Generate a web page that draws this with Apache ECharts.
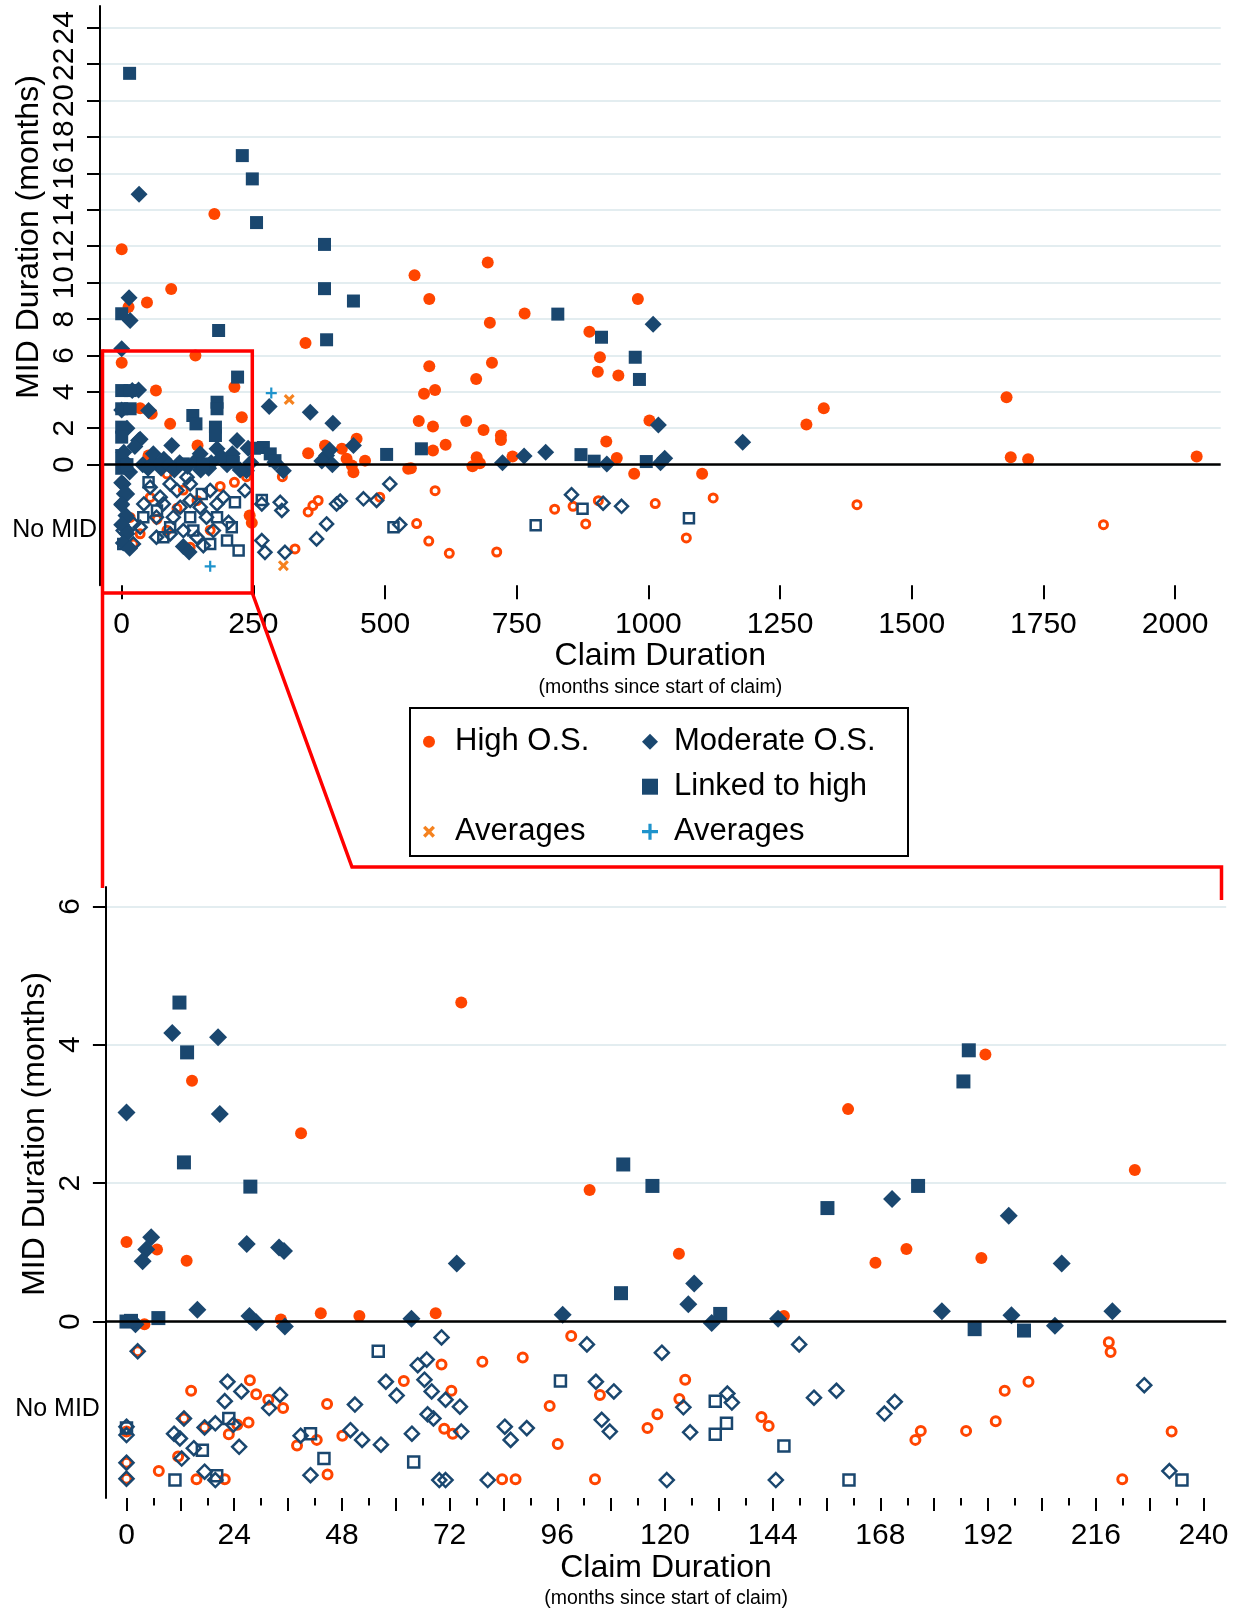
<!DOCTYPE html>
<html lang="en">
<head>
<meta charset="UTF-8">
<title>MID Duration vs Claim Duration</title>
<script src="https://cdn.jsdelivr.net/npm/echarts@6/dist/echarts.min.js"></script>
<style>html,body{margin:0;padding:0;background:#fff;}</style>
</head>
<body>
<div id="main" style="width:1243px;height:1614px;"></div>
<script>
// ---- tick values ----
var topYTicks = [0, 2, 4, 6, 8, 10, 12, 14, 16, 18, 20, 22, 24];
var topXTicks = [0, 250, 500, 750, 1000, 1250, 1500, 1750, 2000];
var botYTicks = [0, 2, 4, 6];
var botXMajor = [0, 12, 24, 36, 48, 60, 72, 84, 96, 108, 120, 132, 144, 156, 168, 180, 192, 204, 216, 228, 240];
var botXMinor = [6, 18, 30, 42, 54, 66, 78, 90, 102, 114, 126, 138, 150, 162, 174, 186, 198, 210, 222, 234];
var botXLabels = [0, 24, 48, 72, 96, 120, 144, 168, 192, 216, 240];
var noMidTop = -3.58;
var noMidBot = -1.27;

// ---- full range chart: [claim duration, MID duration] ----
var highTop = [[0, 11.83], [176, 13.77], [94, 9.65], [48, 8.91], [13, 8.66], [140, 6.0], [0, 5.6], [65, 4.07],
  [214, 4.26], [228, 2.61], [92, 2.24], [57, 2.79], [144, 1.05], [54, 0.45], [35, 3.1], [51, 0.5], [349, 6.68],
  [354, 0.63], [386, 1.05], [418, 0.87], [446, 1.42], [462, 0.22], [437, -0.05], [440, -0.42], [427, 0.32],
  [544, -0.23], [243, -2.8], [247, -3.2], [556, 10.4], [584, 9.1], [695, 11.1], [699, 7.8], [765, 8.3], [703, 5.6],
  [584, 5.4], [574, 3.9], [595, 4.1], [673, 4.7], [888, 7.3], [908, 5.9], [904, 5.1], [943, 4.9], [980, 9.1],
  [1002, 2.42], [920, 1.27], [564, 2.4], [591, 2.1], [654, 2.4], [687, 1.9], [720, 1.6], [720, 1.35], [615, 1.09],
  [591, 0.78], [674, 0.41], [666, -0.09], [680, 0.08], [549, -0.2], [742, 0.45], [940, 0.37], [973, -0.5],
  [1102, -0.5], [1680, 3.7], [1300, 2.2], [1333, 3.1], [1688, 0.4], [1721, 0.3], [2041, 0.45]];
var modTop = [[33, 14.86], [14, 9.17], [16, 7.92], [0, 6.37], [51, 2.97], [32, 4.1], [35, 1.4], [280, 3.2],
  [358, 2.88], [401, 2.28], [440, 1.05], [389, 0.5], [380, 0.2], [395, 0.8], [400, 0.0], [219, 1.32], [95, 1.05],
  [32, 1.32], [4, 0.68], [149, 0.6], [181, 0.87], [291, 0.13], [307, -0.33], [237, -0.33], [1009, 7.72],
  [1019, 2.18], [1179, 1.23], [723, 0.11], [764, 0.48], [805, 0.68], [921, 0.04], [1023, 0.1], [1031, 0.35],
  [20, 4.07], [0, 3.0], [10, 2.0], [25, 1.0], [5, 0.2], [40, 0.0], [60, 0.1], [75, -0.2], [110, 0.1],
  [125, -0.1], [165, -0.2], [200, 0.0], [225, -0.3], [15, -0.4], [0, -1.0], [5, -1.6], [0, -2.2], [8, -2.8],
  [0, -3.3], [10, -3.8], [3, -4.3], [15, -4.6], [117, -4.5], [128, -4.8],
  [60, 0.6], [80, 0.3], [90, 0.0], [140, 0.2], [170, 0.1], [190, 0.4], [210, 0.6], [240, 0.9], [245, 0.1],
  [100, -0.3], [150, -0.3], [50, -0.2]];
var linkTop = [[15, 21.5], [229, 16.98], [248, 15.7], [256, 13.3], [385, 12.1], [385, 9.67], [440, 8.99],
  [184, 7.37], [389, 6.86], [0, 8.29], [220, 4.81], [0, 4.07], [16, 4.07], [0, 3.07], [16, 3.07], [181, 3.43],
  [181, 3.07], [135, 2.7], [141, 2.24], [178, 2.06], [178, 1.6], [0, 2.06], [0, 1.51], [252, 0.9], [269, 0.94],
  [282, 0.59], [291, 0.22], [503, 0.56], [155, 0.04], [117, 0.04], [212, 0.13], [828, 8.27], [911, 7.0],
  [975, 5.9], [983, 4.68], [569, 0.87], [872, 0.55], [897, 0.19], [996, 0.17], [0, 0.5], [0, -0.2], [10, 0.0]];
var highTopNo = [[595, -1.43], [560, -3.24], [583, -4.2], [622, -4.87], [712, -4.8], [822, -2.45], [857, -2.29],
  [881, -3.26], [905, -1.98], [1013, -2.14], [1123, -1.83], [1072, -4.03], [1396, -2.2], [1864, -3.3], [86, -0.51],
  [214, -0.97], [237, -0.66], [305, -0.66], [0, -0.97], [354, -2.6], [373, -1.97], [363, -2.25], [329, -4.63],
  [490, -1.79], [130, -4.54], [35, -3.8], [22, -4.36], [67, -3.0], [105, -2.4], [143, -1.97], [54, -1.8],
  [16, -2.9], [117, -1.4], [168, -3.6], [86, -3.6], [187, -1.2]];
var modTopNo = [[854, -1.65], [914, -2.12], [949, -2.29], [528, -3.29], [3, -1.06], [10, -1.61], [0, -2.16],
  [42, -2.16], [92, -1.06], [124, -0.69], [105, -1.42], [130, -1.97], [234, -1.42], [266, -2.16], [301, -2.07],
  [304, -2.52], [266, -4.17], [272, -4.82], [310, -4.82], [370, -4.08], [389, -3.26], [408, -2.16], [415, -2.0],
  [459, -1.88], [484, -1.97], [509, -1.06], [203, -3.17], [155, -4.45], [54, -1.24], [73, -1.79], [149, -2.34],
  [79, -2.16], [98, -2.89], [117, -3.62], [161, -2.89], [181, -2.16], [193, -1.79], [168, -1.42], [130, -1.06],
  [22, -3.26], [3, -3.62], [35, -3.44], [66, -2.89], [111, -2.34], [174, -3.62], [143, -3.99], [92, -3.81],
  [66, -3.99], [22, -4.36]];
var linkTopNo = [[875, -2.43], [786, -3.33], [1077, -2.94], [51, -0.97], [152, -1.61], [215, -2.07], [209, -3.44],
  [200, -4.17], [222, -4.72], [168, -4.36], [92, -3.44], [67, -2.52], [130, -2.89], [41, -2.89], [3, -4.36],
  [79, -3.99], [181, -2.89], [136, -3.62], [266, -1.94], [516, -3.44]];
var avgHighTop = [[318, 3.58], [307, -5.55]];
var avgModTop = [[284, 3.93], [168, -5.59]];

// ---- zoomed chart (first 240 months, MID up to 6) ----
var highBot = [[74.6, 4.61], [14.6, 3.48], [38.9, 2.72], [0, 1.15], [6.8, 1.04], [13.4, 0.88], [103.2, 1.9],
  [4.0, -0.04], [34.4, 0.03], [43.3, 0.12], [51.9, 0.08], [68.9, 0.12], [160.8, 3.07], [191.4, 3.86],
  [224.7, 2.19], [123.1, 0.98], [166.9, 0.85], [173.8, 1.05], [190.5, 0.92], [146.5, 0.08]];
var modBot = [[10.2, 4.17], [20.4, 4.11], [0, 3.02], [20.8, 3.0], [5.5, 1.22], [4.4, 1.04], [3.6, 0.87],
  [26.8, 1.12], [34.0, 1.07], [35.1, 1.02], [73.6, 0.84], [15.8, 0.17], [27.4, 0.08], [28.9, -0.01],
  [35.3, -0.07], [2.0, -0.04], [63.5, 0.04], [97.2, 0.1], [170.6, 1.77], [196.6, 1.53], [208.4, 0.84],
  [126.5, 0.55], [125.2, 0.25], [130.4, -0.02], [145.2, 0.04], [181.7, 0.15], [197.2, 0.09], [206.9, -0.06],
  [219.7, 0.15]];
var linkBot = [[11.8, 4.61], [13.5, 3.89], [12.8, 2.3], [27.6, 1.95], [7.1, 0.05], [0, 0.0], [1, 0.01],
  [110.7, 2.27], [117.2, 1.96], [110.2, 0.41], [156.2, 1.64], [176.4, 1.96], [187.7, 3.92], [186.5, 3.47],
  [132.3, 0.11], [189.0, -0.11], [200.0, -0.13]];
var highBotNo = [[0, -1.59], [0, -2.04], [0, -2.27], [2.5, -0.43], [7.2, -2.16], [11.5, -1.95], [12.8, -1.4],
  [14.4, -1.0], [15.6, -2.28], [17.4, -1.53], [21.9, -2.28], [22.8, -1.63], [24.7, -1.49], [27.2, -1.46],
  [27.5, -0.85], [28.9, -1.05], [31.6, -1.13], [34.9, -1.25], [38.0, -1.79], [42.4, -1.71], [44.7, -1.19],
  [44.8, -2.21], [48.1, -1.65], [61.8, -0.86], [70.2, -0.62], [70.8, -1.55], [72.4, -1.0], [72.7, -1.62],
  [79.3, -0.58], [83.7, -2.28], [86.7, -2.28], [88.3, -0.52], [94.3, -1.22], [96.1, -1.77], [99.1, -0.21],
  [104.4, -2.28], [105.5, -1.06], [116.1, -1.54], [118.3, -1.34], [123.2, -1.12], [124.5, -0.84],
  [141.5, -1.38], [143.1, -1.51], [175.8, -1.71], [177.0, -1.58], [187.1, -1.58], [193.7, -1.44],
  [195.7, -1.0], [201.0, -0.87], [218.9, -0.3], [219.3, -0.44], [221.9, -2.28], [232.9, -1.59]];
var modBotNo = [[2.5, -0.43], [0, -1.52], [0, -1.64], [0, -2.04], [0, -2.27], [10.6, -1.62], [11.9, -1.69],
  [12.8, -1.4], [12.3, -1.98], [15.0, -1.83], [17.4, -1.53], [17.4, -2.17], [19.8, -1.47], [19.8, -2.29],
  [21.9, -1.15], [22.5, -0.87], [23.8, -1.49], [25.1, -1.81], [25.6, -1.01], [31.8, -1.25], [34.2, -1.06],
  [38.8, -1.65], [41.0, -2.22], [49.9, -1.57], [50.9, -1.2], [52.5, -1.71], [56.7, -1.78], [57.8, -0.87],
  [60.2, -1.07], [63.6, -1.62], [64.9, -0.63], [66.4, -0.84], [66.9, -0.55], [68.0, -1.01], [67.1, -1.34],
  [68.4, -1.4], [70.2, -0.23], [71.1, -1.13], [69.7, -2.29], [71.1, -2.29], [74.3, -1.23], [74.6, -1.59],
  [80.5, -2.29], [84.3, -1.52], [85.6, -1.71], [89.2, -1.54], [102.6, -0.33], [104.6, -0.87], [105.9, -1.42],
  [107.7, -1.59], [108.6, -1.01], [119.3, -0.45], [120.4, -2.29], [124.1, -1.24], [125.6, -1.6],
  [133.9, -1.04], [134.9, -1.17], [144.7, -2.29], [149.9, -0.33], [153.2, -1.1], [158.2, -1.0],
  [168.9, -1.33], [171.2, -1.16], [226.8, -0.92], [232.4, -2.16]];
var linkBotNo = [[0, -1.54], [10.8, -2.29], [16.9, -1.86], [20.1, -2.23], [22.8, -1.4], [41.0, -1.62],
  [44.0, -1.98], [56.1, -0.43], [64.0, -2.03], [96.7, -0.86], [131.2, -1.15], [131.2, -1.63], [133.7, -1.47],
  [146.5, -1.8], [161.0, -2.29], [235.2, -2.29]];

var FONT = 'Liberation Sans, Arial, sans-serif';
var ORANGE = '#ff4500';
var NAVY = '#1a476f';
var AVG_ORANGE = '#f5821f';
var AVG_BLUE = '#1e93cc';
var GRIDLINE = '#e3edf0';
var CROSS = 'path://M2,0L5,3L8,0L10,2L7,5L10,8L8,10L5,7L2,10L0,8L3,5L0,2Z';
var PLUS = 'path://M4,0H6V4H10V6H6V10H4V6H0V4H4Z';

function scatter(name, data, grid, symbol, size, color, hollow, bw) {
  return {
    type: 'scatter',
    name: name,
    data: data,
    xAxisIndex: grid === 0 ? 0 : 1,
    yAxisIndex: grid === 0 ? 0 : 2,
    symbol: symbol,
    symbolSize: size,
    symbolKeepAspect: true,
    itemStyle: hollow
      ? { color: 'rgba(0,0,0,0)', borderColor: color, borderWidth: bw, opacity: 1 }
      : { color: color, opacity: 1 },
    emphasis: { disabled: true },
    z: hollow ? 3 : 4
  };
}

function zeroLine(grid) {
  return {
    type: 'scatter', name: 'zero' + grid, data: [],
    xAxisIndex: grid === 0 ? 0 : 1, yAxisIndex: grid === 0 ? 0 : 2, z: 2,
    markLine: {
      silent: true, symbol: ['none', 'none'], label: { show: false },
      lineStyle: { color: '#000', width: 2.5, type: 'solid' },
      data: [{ yAxis: 0 }]
    }
  };
}

function plain(v) { return String(v); }

function yMain(grid, min, max, ticks) {
  return {
    type: 'value', gridIndex: grid, min: min, max: max, position: 'left',
    axisLine: { show: true, onZero: false, lineStyle: { color: '#000', width: 2 } },
    axisTick: { show: true, customValues: ticks, length: 13, lineStyle: { color: '#000', width: 2 } },
    axisLabel: { customValues: ticks, formatter: plain, rotate: 90, margin: 20, fontSize: 30, color: '#000', fontFamily: FONT },
    splitLine: { show: true, lineStyle: { color: GRIDLINE, width: 2 } }
  };
}

function yNoMid(grid, min, max, v, margin) {
  return {
    type: 'value', gridIndex: grid, min: min, max: max, position: 'left', offset: 0,
    axisLine: { show: false, onZero: false }, axisTick: { show: false }, splitLine: { show: false },
    axisLabel: { customValues: [v], formatter: function () { return 'No MID'; }, margin: margin,
      fontSize: 25, color: '#000', fontFamily: FONT }
  };
}

var nameRich = {
  a: { fontSize: 32, lineHeight: 34, color: '#000', fontFamily: FONT },
  b: { fontSize: 19.5, lineHeight: 28, color: '#000', fontFamily: FONT }
};
var xName = '{a|Claim Duration}\n{b|(months since start of claim)}';
var legendText = { fontSize: 31, lineHeight: 36, color: '#000', fontFamily: FONT };

var option = {
  animation: false,
  backgroundColor: '#fff',
  grid: [
    { left: 100, top: 6, width: 1120.7, height: 579.3, outerBoundsMode: 'none', containLabel: false },
    { left: 105.9, top: 887, width: 1120.3, height: 611, outerBoundsMode: 'none', containLabel: false }
  ],
  xAxis: [
    {
      type: 'value', gridIndex: 0, min: -41.2, max: 2086.6, position: 'bottom',
      axisLine: { show: false, onZero: false },
      axisTick: { show: true, customValues: topXTicks, length: 14, lineStyle: { color: '#000', width: 2 } },
      axisLabel: { customValues: topXTicks, formatter: plain, margin: 24, fontSize: 30, color: '#000', fontFamily: FONT },
      splitLine: { show: false },
      name: xName, nameLocation: 'middle', nameGap: 51, nameTextStyle: { rich: nameRich }
    },
    {
      type: 'value', gridIndex: 1, min: -4.59, max: 245.06, position: 'bottom',
      axisLine: { show: false, onZero: false },
      axisTick: { show: true, customValues: botXMajor, length: 13, lineStyle: { color: '#000', width: 2 } },
      axisLabel: { customValues: botXLabels, formatter: plain, margin: 23, fontSize: 30, color: '#000', fontFamily: FONT },
      splitLine: { show: false },
      name: xName, nameLocation: 'middle', nameGap: 52, nameTextStyle: { rich: nameRich }
    },
    {
      type: 'value', gridIndex: 1, min: -4.59, max: 245.06, position: 'bottom', offset: 0,
      axisLine: { show: false, onZero: false },
      axisTick: { show: true, customValues: botXMinor, length: 7.5, lineStyle: { color: '#000', width: 2 } },
      axisLabel: { show: false }, splitLine: { show: false }
    }
  ],
  yAxis: [
    yMain(0, -6.63, 25.2, topYTicks),
    yNoMid(0, -6.63, 25.2, noMidTop, 3),
    yMain(1, -2.55, 6.28, botYTicks),
    yNoMid(1, -2.55, 6.28, noMidBot, 6)
  ],
  legend: [
    {
      orient: 'vertical', left: 423, top: 723.7, padding: 0, itemWidth: 12, itemHeight: 12, itemGap: 54,
      selectedMode: false, data: ['High O.S.', 'Averages'],
      textStyle: Object.assign({ padding: [0, 0, 0, 15] }, legendText)
    },
    {
      orient: 'vertical', left: 642, top: 723.7, padding: 0, itemWidth: 16, itemHeight: 16, itemGap: 9,
      selectedMode: false, data: ['Moderate O.S.', 'Linked to high', 'Averages '],
      textStyle: Object.assign({ padding: [0, 0, 0, 11] }, legendText)
    }
  ],
  graphic: [
    { type: 'text', x: 29, y: 237, rotation: Math.PI / 2,
      style: { text: 'MID Duration (months)', fontSize: 32, fontFamily: FONT, fill: '#000', align: 'center', verticalAlign: 'middle' } },
    { type: 'text', x: 35, y: 1134, rotation: Math.PI / 2,
      style: { text: 'MID Duration (months)', fontSize: 32, fontFamily: FONT, fill: '#000', align: 'center', verticalAlign: 'middle' } },
    { type: 'rect', z: 50, shape: { x: 410, y: 708, width: 498, height: 148 },
      style: { fill: 'none', stroke: '#000', lineWidth: 2 } },
    { type: 'polyline', z: 60, shape: { points: [[102.5, 351], [252.3, 351], [252.3, 593], [102.5, 593]] },
      style: { fill: 'none', stroke: '#ff0000', lineWidth: 3.5 } },
    { type: 'polyline', z: 60, shape: { points: [[102.5, 349.3], [102.5, 888]] },
      style: { fill: 'none', stroke: '#ff0000', lineWidth: 3.5 } },
    { type: 'polyline', z: 60, shape: { points: [[252.3, 593], [352, 867], [1221.5, 867], [1221.5, 900]] },
      style: { fill: 'none', stroke: '#ff0000', lineWidth: 3.5 } }
  ],
  series: [
    zeroLine(0),
    zeroLine(1),
    scatter('High O.S. no MID', highTopNo, 0, 'circle', 8, ORANGE, true, 3),
    scatter('Moderate O.S. no MID', modTopNo, 0, 'diamond', 13, NAVY, true, 2.5),
    scatter('Linked to high no MID', linkTopNo, 0, 'rect', 10, NAVY, true, 2.5),
    scatter('High O.S.', highTop, 0, 'circle', 12, ORANGE, false),
    scatter('Moderate O.S.', modTop, 0, 'diamond', 17, NAVY, false),
    scatter('Linked to high', linkTop, 0, 'rect', 13, NAVY, false),
    scatter('Averages', avgHighTop, 0, CROSS, 11, AVG_ORANGE, false),
    scatter('Averages ', avgModTop, 0, PLUS, 11, AVG_BLUE, false),
    scatter('High O.S. no MID', highBotNo, 1, 'circle', 9, ORANGE, true, 3),
    scatter('Moderate O.S. no MID', modBotNo, 1, 'diamond', 14, NAVY, true, 2.5),
    scatter('Linked to high no MID', linkBotNo, 1, 'rect', 11, NAVY, true, 2.5),
    scatter('High O.S.', highBot, 1, 'circle', 12, ORANGE, false),
    scatter('Moderate O.S.', modBot, 1, 'diamond', 18, NAVY, false),
    scatter('Linked to high', linkBot, 1, 'rect', 14, NAVY, false)
  ]
};

var chart = echarts.init(document.getElementById('main'));
chart.setOption(option);
</script>
</body>
</html>
